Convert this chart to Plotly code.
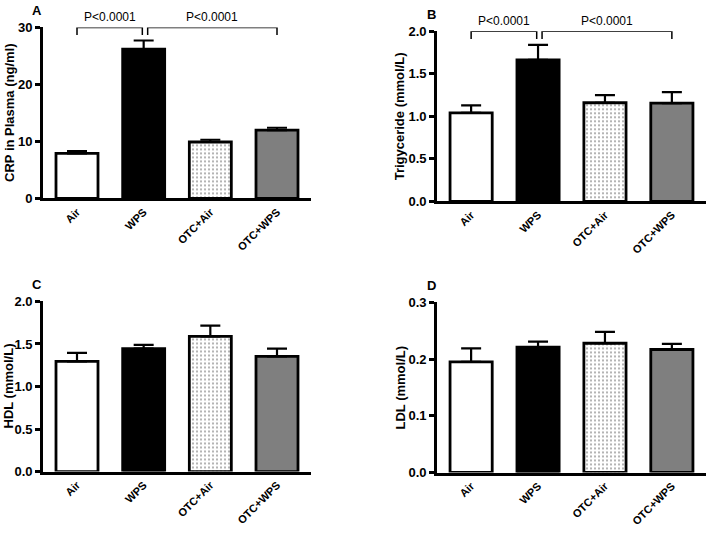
import plotly.graph_objects as go

groups = ["Air", "WPS", "OTC+Air", "OTC+WPS"]

crp_mean = [7.9, 26.2, 9.9, 12.0]
crp_sem = [0.4, 1.5, 0.4, 0.4]

tg_mean = [1.04, 1.665, 1.16, 1.155]
tg_sem = [0.09, 0.175, 0.09, 0.13]

hdl_mean = [1.295, 1.445, 1.59, 1.355]
hdl_sem = [0.10, 0.045, 0.125, 0.09]

ldl_mean = [0.195, 0.221, 0.228, 0.217]
ldl_sem = [0.024, 0.010, 0.020, 0.010]

bar_colors = ["white", "black", "white", "#7f7f7f"]
bar_patterns = ["", "", ".", ""]

panels = [
    dict(letter="A", mean=crp_mean, sem=crp_sem, title="CRP in Plasma (ng/ml)",
         yrange=[0, 30], ticks=[0, 10, 20, 30], fmt="d", sig=True, tx=10 / 708,
         xd=[43 / 708, 311 / 708], yd=[1 - 197 / 533, 1 - 21 / 533]),
    dict(letter="B", mean=tg_mean, sem=tg_sem, title="Trigyceride (mmol/L)",
         yrange=[0, 2.0], ticks=[0, 0.5, 1.0, 1.5, 2.0], fmt=".1f", sig=True, tx=399 / 708,
         xd=[437 / 708, 706 / 708], yd=[1 - 200 / 533, 1 - 25 / 533]),
    dict(letter="C", mean=hdl_mean, sem=hdl_sem, title="HDL (mmol/L)",
         yrange=[0, 2.0], ticks=[0, 0.5, 1.0, 1.5, 2.0], fmt=".1f", sig=False, tx=9 / 708,
         xd=[43 / 708, 311 / 708], yd=[1 - 478 / 533, 1 - 303 / 533]),
    dict(letter="D", mean=ldl_mean, sem=ldl_sem, title="LDL (mmol/L)",
         yrange=[0, 0.3], ticks=[0, 0.1, 0.2, 0.3], fmt=".1f", sig=False, tx=400 / 708,
         xd=[437 / 708, 706 / 708], yd=[1 - 479 / 533, 1 - 304 / 533]),
]

comparisons = [(0, 1, "P<0.0001"), (1, 3, "P<0.0001")]

FONT = "Arial, Liberation Sans, sans-serif"
fig = go.Figure()
layout = dict(
    width=708, height=533, margin=dict(l=0, r=0, t=0, b=0),
    paper_bgcolor="white", plot_bgcolor="white", showlegend=False,
    font=dict(family=FONT, color="black"),
)
annotations = []
shapes = []

for i, p in enumerate(panels):
    n = "" if i == 0 else str(i + 1)
    xa, ya = "x" + n, "y" + n
    fig.add_trace(go.Bar(
        x=groups, y=p["mean"], xaxis=xa, yaxis=ya, width=0.63,
        marker=dict(color=bar_colors, line=dict(color="black", width=2.8),
                    pattern=dict(shape=bar_patterns, fgcolor="#444444", bgcolor="white",
                                 size=4, solidity=0.22)),
        error_y=dict(type="data", symmetric=False, array=p["sem"],
                     arrayminus=[0] * len(groups), color="black", thickness=2.2, width=10),
    ))
    layout["xaxis" + n] = dict(
        domain=p["xd"], anchor=ya, range=[-0.51, 3.51], showline=True, linewidth=2.8,
        linecolor="black", ticks="", tickangle=-45, showgrid=False, fixedrange=True,
        tickfont=dict(size=11, family=FONT, weight="bold"),
    )
    layout["yaxis" + n] = dict(
        domain=p["yd"], anchor=xa, range=p["yrange"], tickvals=p["ticks"],
        tickformat=p["fmt"], showline=True, linewidth=2.8, linecolor="black",
        ticks="outside", ticklen=5, tickwidth=2.5, tickcolor="black", showgrid=False,
        zeroline=False, tickfont=dict(size=13, family=FONT, weight="bold"),
    )
    annotations.append(dict(
        text="<b>" + p["title"] + "</b>", xref="paper", yref="paper",
        x=p["tx"], y=(p["yd"][0] + p["yd"][1]) / 2, textangle=-90,
        xanchor="center", yanchor="middle", showarrow=False,
        font=dict(size=13, family=FONT),
    ))
    annotations.append(dict(
        text="<b>" + p["letter"] + "</b>", xref="paper", yref="paper",
        x=p["xd"][0] - 6 / 708, y=p["yd"][1] + 8 / 533, xanchor="center", yanchor="bottom",
        showarrow=False, font=dict(size=13, family=FONT),
    ))
    if p["sig"]:
        top = p["yrange"][1]
        drop = top * 0.045
        for k, (a, b, txt) in enumerate(comparisons):
            x0 = a + (0.06 if k == 1 else 0.0)
            x1 = b - (0.02 if k == 0 else 0.0)
            path = f"M {x0},{top - drop} L {x0},{top} L {x1},{top} L {x1},{top - drop}"
            shapes.append(dict(type="path", path=path, xref=xa, yref=ya,
                               line=dict(color="black", width=1.5)))
            annotations.append(dict(
                text=txt, xref=xa, yref=ya, x=(x0 + x1) / 2, y=top,
                xanchor="center", yanchor="bottom", yshift=1, showarrow=False,
                font=dict(size=12, family=FONT),
            ))

layout["annotations"] = annotations
layout["shapes"] = shapes
fig.update_layout(**layout)
fig.write_html("out.html")
